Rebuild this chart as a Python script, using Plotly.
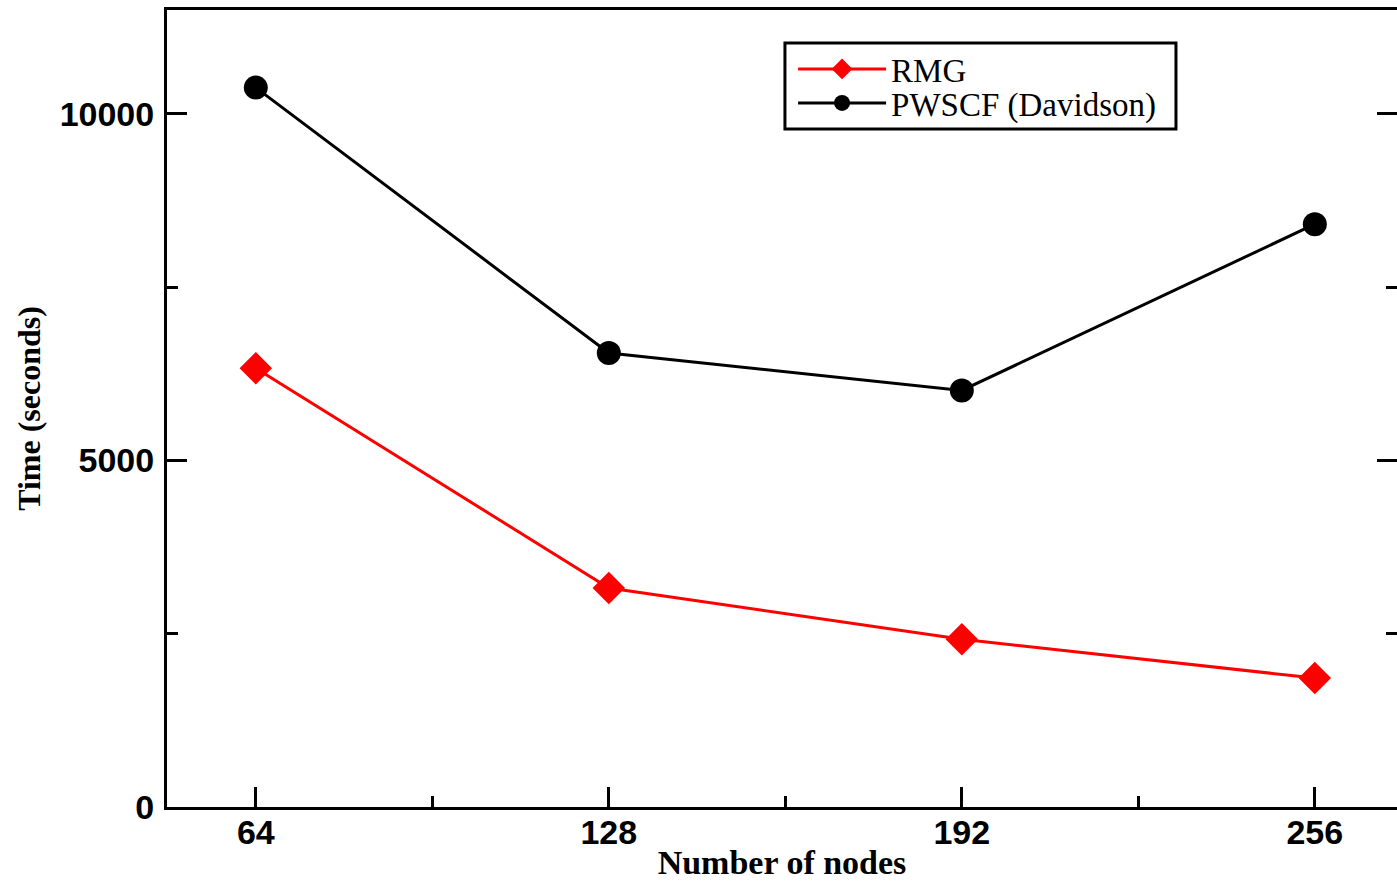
import plotly.graph_objects as go

nodes = [64, 128, 192, 256]
rmg = [6330, 3160, 2420, 1860]
pwscf = [10380, 6550, 6010, 8410]
ytick_vals = [0, 5000, 10000]
ytick_text = ["0", "5000", "10000"]

fig = go.Figure()
fig.add_trace(go.Scatter(x=nodes, y=rmg, name="RMG", mode="lines+markers",
                         line=dict(color="#ff0000", width=3),
                         marker=dict(symbol="diamond", size=25, color="#ff0000"),
                         legend="legend"))
fig.add_trace(go.Scatter(x=nodes, y=pwscf, name="PWSCF (Davidson)", mode="lines+markers",
                         line=dict(color="black", width=3),
                         marker=dict(symbol="circle", size=24, color="black"),
                         legend="legend2"))
# invisible trace for right-side ticks
fig.add_trace(go.Scatter(x=[nodes[0]], y=[rmg[0]], yaxis="y2", showlegend=False,
                         mode="markers", marker=dict(opacity=0), hoverinfo="skip"))

tickfont = dict(family="Liberation Sans, Arial", size=34, color="black", weight="bold")
legfont = dict(family="Liberation Serif, Times New Roman", size=33, color="black")

leg_common = dict(xanchor="left", yanchor="middle", bgcolor="rgba(0,0,0,0)",
                  borderwidth=0, font=legfont, itemwidth=88)

fig.update_layout(
    width=1397, height=881,
    margin=dict(l=167, r=0, t=10, b=74),
    plot_bgcolor="white", paper_bgcolor="white",
    showlegend=True,
    legend=dict(x=0.509, y=0.926, **leg_common),
    legend2=dict(x=0.509, y=0.8833, **leg_common),
    shapes=[dict(type="rect", xref="paper", yref="paper", x0=0.5024, x1=0.8203,
                 y0=0.8507, y1=0.9586, line=dict(color="black", width=3),
                 fillcolor="white", layer="above")],
    xaxis=dict(range=[47.9, 270.9], tickvals=nodes, ticktext=[str(n) for n in nodes],
               automargin=False,
               showgrid=False, zeroline=False, showline=True, linecolor="black", linewidth=3,
               mirror=True, ticks="inside", ticklen=20, tickwidth=3, tickcolor="black",
               tickfont=tickfont, ticklabelstandoff=-7,
               minor=dict(tickvals=[96, 160, 224], ticks="inside", ticklen=11, tickwidth=3, tickcolor="black"),
               title=dict(text="Number of nodes",
                          font=dict(family="Liberation Serif, Times New Roman", size=34, color="black", weight="bold"),
                          standoff=19)),
    yaxis=dict(range=[0, 11500], tickvals=ytick_vals, ticktext=ytick_text,
               automargin=False,
               showgrid=False, zeroline=False, showline=True, linecolor="black", linewidth=3,
               mirror=False, ticks="inside", ticklen=20, tickwidth=3, tickcolor="black",
               tickfont=tickfont, ticklabelstandoff=3,
               minor=dict(tickvals=[2500, 7500], ticks="inside", ticklen=11, tickwidth=3, tickcolor="black"),
               title=dict(text="Time (seconds)",
                          font=dict(family="Liberation Serif, Times New Roman", size=32, color="black", weight="bold"),
                          standoff=10)),
    yaxis2=dict(range=[0, 11500], overlaying="y", side="right", tickvals=ytick_vals,
                automargin=False,
                showgrid=False, zeroline=False, showline=False, ticks="inside", ticklen=20,
                tickwidth=3, tickcolor="black", showticklabels=False,
                minor=dict(tickvals=[2500, 7500], ticks="inside", ticklen=11, tickwidth=3, tickcolor="black")),
)

fig.write_html("out.html")
